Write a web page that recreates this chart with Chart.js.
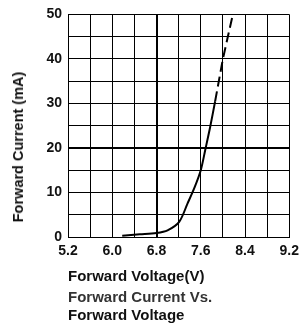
<!DOCTYPE html>
<html>
<head>
<meta charset="utf-8">
<script src="https://cdn.jsdelivr.net/npm/chart.js@4/dist/chart.umd.min.js"></script>
<style>
  html, body { margin: 0; padding: 0; background: #fff; }
  #wrap { position: relative; width: 305px; height: 327px; }
  #chart { position: absolute; left: 0; top: 0; }
  .cap { position: absolute; left: 68px; font: bold 15px "Liberation Sans", Arial, sans-serif; color: #111; white-space: nowrap; }
  #ytitle { position: absolute; left: 18px; top: 147px; transform: translate(-50%, -50%) rotate(-90deg);
            font: bold 14.5px "Liberation Sans", Arial, sans-serif; color: #111; white-space: nowrap; }
</style>
</head>
<body>
<div id="wrap">
  <canvas id="chart" width="305" height="327"></canvas>
  <div id="ytitle">Forward Current (mA)</div>
  <div class="cap" style="top:267px">Forward Voltage(V)</div>
  <div class="cap" style="top:288px;color:#333">Forward Current Vs.</div>
  <div class="cap" style="top:306px">Forward Voltage</div>
</div>
<script>
// forward voltage (V) / forward current (mA)
const solidV = [6.18, 6.5, 6.8, 7.0, 7.21, 7.36, 7.49, 7.6, 7.68, 7.77, 7.86];
const solidI = [0.3, 0.6, 0.9, 1.5, 3.4, 7.5, 11.2, 15, 19.5, 24.7, 30.5];
const dashV = [7.86, 8.0, 8.18];
const dashI = [30.5, 40, 50];

const xTicks = ["5.2", "6.0", "6.8", "7.6", "8.4", "9.2"];
const yTicks = ["0", "10", "20", "30", "40", "50"];

const pts = (xs, ys) => xs.map((x, i) => ({ x: x, y: ys[i] }));
const font = { family: "'Liberation Sans', Arial, sans-serif", size: 14, weight: "bold" };

new Chart(document.getElementById("chart"), {
  type: "scatter",
  data: {
    datasets: [{
      data: pts(solidV, solidI),
      showLine: true,
      borderColor: "#000",
      borderWidth: 2,
      pointRadius: 0,
      tension: 0.3
    }, {
      data: pts(dashV, dashI),
      showLine: true,
      borderColor: "#000",
      borderWidth: 2,
      borderDash: [10, 5],
      pointRadius: 0,
      tension: 0
    }]
  },
  options: {
    responsive: false,
    animation: false,
    layout: { padding: { top: 13, right: 11, left: 0, bottom: 0 } },
    plugins: { legend: { display: false }, tooltip: { enabled: false } },
    scales: {
      x: {
        min: 5.2, max: 9.2,
        afterFit: s => { s.height = 90; },
        afterBuildTicks: s => {
          s.ticks = [];
          for (let i = 0; i <= 10; i++) s.ticks.push({ value: +(5.2 + i * 0.4).toFixed(1) });
        },
        ticks: {
          color: "#111", font: font, padding: 6, maxRotation: 0, autoSkip: false,
          callback: (v, i) => i % 2 === 0 ? xTicks[i / 2] : ""
        },
        grid: {
          color: "#000", drawTicks: false,
          lineWidth: c => (c.tick && Math.abs(c.tick.value - 6.8) < 1e-6) ? 2 : 1
        },
        border: { color: "#000", width: 1 }
      },
      y: {
        min: 0, max: 50,
        afterFit: s => { s.width = 68; },
        ticks: {
          stepSize: 5, color: "#111", font: font, padding: 6,
          callback: (v) => v % 10 === 0 ? yTicks[v / 10] : ""
        },
        grid: {
          color: "#000", drawTicks: false,
          lineWidth: c => (c.tick && c.tick.value === 20) ? 2 : 1
        },
        border: { color: "#000", width: 1 }
      }
    }
  }
});
</script>
</body>
</html>
